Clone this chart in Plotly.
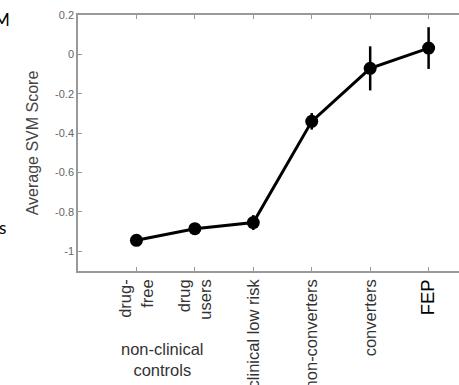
import plotly.graph_objects as go

positions = [1, 2, 3, 4, 5, 6]
tick_labels = ["drug-<br>free", "drug<br>users", "clinical low risk", "non-converters", "converters",
               "<span style='font-size:18.5px;color:black'>FEP</span>"]
scores = [-0.944, -0.885, -0.854, -0.340, -0.071, 0.032]
errors = [0.012, 0.028, 0.038, 0.042, 0.112, 0.106]
y_ticks = [-1, -0.8, -0.6, -0.4, -0.2, 0, 0.2]
y_tick_text = ["-1", "-0.8", "-0.6", "-0.4", "-0.2", "0", "0.2"]

W, H = 459, 385
L, R, T, B = 78, 0, 15, 114

fig = go.Figure()
fig.add_trace(go.Scatter(
    x=positions, y=scores, mode="lines+markers",
    line=dict(color="black", width=3),
    marker=dict(color="black", size=13),
    error_y=dict(type="data", array=errors, visible=True, color="black", thickness=2.5, width=0),
    showlegend=False,
))

axis_color = "#999999"
fig.update_layout(
    width=W, height=H,
    margin=dict(l=L, r=R, t=T, b=B),
    paper_bgcolor="white", plot_bgcolor="white",
    font=dict(family="Liberation Sans, Arial, sans-serif", color="#333333"),
    xaxis=dict(
        range=[0, 6.52], tickvals=positions, ticktext=tick_labels, tickangle=-90,
        ticks="inside", ticklen=4, tickcolor=axis_color, showline=True, linecolor=axis_color,
        linewidth=1.5, mirror="ticks", showgrid=False, zeroline=False, automargin=False,
        tickfont=dict(size=16.5, color="#333333"),
    ),
    yaxis=dict(
        range=[-1.1, 0.2], tickvals=y_ticks, ticktext=y_tick_text, automargin=False,
        ticks="inside", ticklen=4, tickcolor=axis_color, showline=True, linecolor=axis_color,
        linewidth=1.5, showgrid=False, zeroline=False,
        tickfont=dict(size=11, color="#666666"),
        title=dict(text="Average SVM Score", font=dict(size=16, color="#444444"), standoff=12),
    ),
)

pw = W - L - R
ph = H - T - B
def px_x(p):
    return (p - L) / pw
def px_y(p):
    return 1 - (p - T) / ph

fig.add_annotation(text="non-clinical<br>controls", xref="paper", yref="paper",
                   x=px_x(162), y=px_y(359), xanchor="center", yanchor="middle", showarrow=False,
                   font=dict(size=16.5, color="#333333"), align="center")
fig.add_annotation(text="M", xref="paper", yref="paper", x=px_x(12), y=px_y(19),
                   xanchor="right", yanchor="middle", showarrow=False,
                   font=dict(size=17, color="black", family="Lato, sans-serif"))
fig.add_annotation(text="s", xref="paper", yref="paper", x=px_x(8), y=px_y(227),
                   xanchor="right", yanchor="middle", showarrow=False,
                   font=dict(size=17, color="black", family="Lato, sans-serif"))

fig.write_html("out.html", config={"displayModeBar": False},
               post_script="document.body.style.margin='0';document.body.style.overflow='hidden';")
